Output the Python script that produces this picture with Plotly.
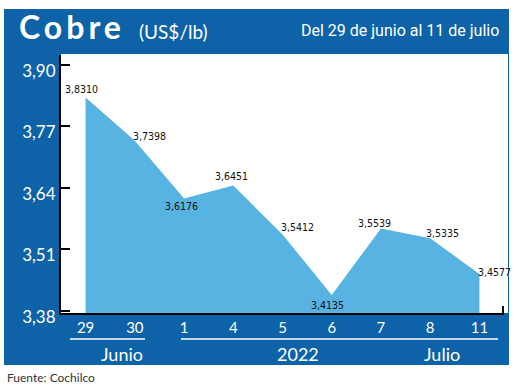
import plotly.graph_objects as go

# ---- data ----
days = ["29", "30", "1", "4", "5", "6", "7", "8", "11"]
prices = [3.8310, 3.7398, 3.6176, 3.6451, 3.5412, 3.4135, 3.5539, 3.5335, 3.4577]
price_labels = ["3,8310", "3,7398", "3,6176", "3,6451", "3,5412", "3,4135", "3,5539", "3,5335", "3,4577"]
y_ticks = [3.38, 3.51, 3.64, 3.77, 3.90]
month_labels = ["Junio", "2022", "Julio"]

# ---- style ----
DARK = "#0E63A8"
FILL = "#56B3E2"
W, H = 520, 387
L, R, T, B = 61, 16, 55, 74
PW, PH = W - L - R, H - T - B

def px(x):
    return (x - L) / PW

def py(y):
    return (H - B - y) / PH

# label offsets (pixels) relative to each point
label_shift = [(-4, 9), (15, 5), (-3, -8), (-2, 9), (15, 8), (-4, -10), (-6, 6), (12, 5), (15, 2)]

fig = go.Figure()
fig.add_trace(go.Scatter(
    x=days, y=prices, mode="lines", line=dict(width=0, color=FILL),
    fill="tozeroy", fillcolor=FILL, hoverinfo="skip", showlegend=False,
))

annotations = []
for i, (v, t, (dx, dy)) in enumerate(zip(prices, price_labels, label_shift)):
    annotations.append(dict(
        x=i, y=v, xref="x", yref="y", text=t, showarrow=False,
        xshift=dx, yshift=dy,
        font=dict(family="Liberation Sans Narrow, DejaVu Sans Condensed, Roboto", size=10.5, color="#111"),
    ))

# title texts
annotations.append(dict(x=px(17), y=py(26), xref="paper", yref="paper", xanchor="left", yanchor="middle",
                        text="<span style=\"letter-spacing:4px\"><b>Cobre</b></span>", showarrow=False,
                        font=dict(family="Lato", size=32, color="white")))
annotations.append(dict(x=px(137), y=py(31), xref="paper", yref="paper", xanchor="left", yanchor="middle",
                        text="(US$/lb)", showarrow=False,
                        font=dict(family="Lato", size=19, color="white")))
annotations.append(dict(x=px(501), y=py(30), xref="paper", yref="paper", xanchor="right", yanchor="middle",
                        text="Del 29 de junio al 11 de julio", showarrow=False,
                        font=dict(family="Liberation Sans Narrow, Roboto", size=16, color="white")))
# month group labels
for txt, cx in zip(month_labels, [122, 298, 442]):
    annotations.append(dict(x=px(cx), y=py(354), xref="paper", yref="paper", xanchor="center", yanchor="middle",
                            text=txt, showarrow=False,
                            font=dict(family="Lato", size=18, color="white")))
annotations.append(dict(x=px(5), y=py(377), xref="paper", yref="paper", xanchor="left", yanchor="middle",
                        text="Fuente: Cochilco", showarrow=False,
                        font=dict(family="Lato", size=12, color="#333")))

shapes = [
    dict(type="rect", xref="paper", yref="paper", x0=px(4), x1=px(509), y0=py(9), y1=py(365),
         fillcolor=DARK, line=dict(width=0), layer="below"),
    dict(type="rect", xref="paper", yref="paper", x0=px(61), x1=px(508), y0=py(54), y1=py(313),
         fillcolor="white", line=dict(width=0), layer="below"),
    dict(type="line", xref="paper", yref="paper", x0=px(70), x1=px(145), y0=py(339), y1=py(339),
         line=dict(color="white", width=1.5)),
    dict(type="line", xref="paper", yref="paper", x0=px(181), x1=px(498), y0=py(339), y1=py(339),
         line=dict(color="white", width=1.5)),
    dict(type="line", xref="paper", yref="paper", x0=px(503), x1=px(503), y0=py(313), y1=py(306),
         line=dict(color="black", width=2)),
]

fig.update_layout(
    width=W, height=H, margin=dict(l=L, r=R, t=T, b=B),
    paper_bgcolor="white", plot_bgcolor="rgba(0,0,0,0)",
    separators=",.",
    showlegend=False,
    annotations=annotations, shapes=shapes,
    xaxis=dict(type="category", range=[-0.5, 8.5], showgrid=False, zeroline=False,
               showline=True, linecolor="black", linewidth=2, ticks="",
               tickfont=dict(family="Lato", size=15, color="white"), fixedrange=True),
    yaxis=dict(range=[3.3752, 3.9212], tickvals=y_ticks, tickformat=".2f",
               showgrid=False, zeroline=False, showline=True, linecolor="black", linewidth=2,
               ticks="inside", ticklen=9, tickwidth=2, tickcolor="black",
               ticklabelshift=6,
               tickfont=dict(family="Lato", size=17, color="white"), fixedrange=True),
)

fig.write_html("out.html", config={"displayModeBar": False},
               post_script="document.body.style.margin='0px';")
